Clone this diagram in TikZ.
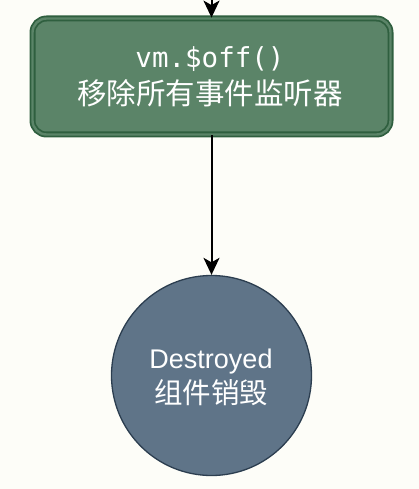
\documentclass[tikz,border=0pt]{standalone}
\usepackage{fontspec}
\setmainfont{Liberation Sans}
\setmonofont{DejaVu Sans Mono}
\newfontfamily\cjk{Noto Sans CJK SC}
\usetikzlibrary{arrows.meta}
\definecolor{bgc}{HTML}{FDFDF8}
\definecolor{boxfill}{HTML}{5B8468}
\definecolor{boxline}{HTML}{2F5F3F}
\definecolor{circfill}{HTML}{5F7488}
\definecolor{circline}{HTML}{2C3E50}
\tikzset{
  stepbox/.style={draw=boxline, double=boxfill, double distance=2.4pt, line width=1.8pt,
    fill=boxfill, rounded corners=14pt, minimum width=358pt, minimum height=116pt, inner sep=0pt},
  endcirc/.style={circle, draw=circline, line width=1.3pt, fill=circfill,
    minimum size=200pt, inner sep=0pt},
  lbl/.style={text=white, anchor=base, inner sep=0pt},
  flow/.style={-{Stealth[length=17pt,width=16pt,inset=4.5pt]}, line width=2pt, black}
}
\begin{document}
\begin{tikzpicture}[x=1pt,y=-1pt]
\fill[bgc] (0,0) rectangle (419,489);
\useasboundingbox (0,0) rectangle (419,489);
\coordinate (top) at (211.5,0);
\node[stepbox] (off) at (211.5,76.5) {};
\node[lbl] (offcode) at (210,68) {\fontsize{27.5}{34}\selectfont\ttfamily vm.\$off()};
\node[lbl] (offtext) at (210,104.5) {\fontsize{29.5}{34}\selectfont\cjk 移除所有事件监听器};
\node[endcirc] (destroyed) at (211.5,375.5) {};
\node[lbl] (destroyedname) at (211,368) {\fontsize{27}{34}\selectfont Destroyed};
\node[lbl] (destroyedtext) at (211,403) {\fontsize{28.5}{34}\selectfont\cjk 组件销毁};
\draw[flow] (top) -- (off.north);
\draw[flow] (off.south) -- (destroyed.north);
\end{tikzpicture}
\end{document}
